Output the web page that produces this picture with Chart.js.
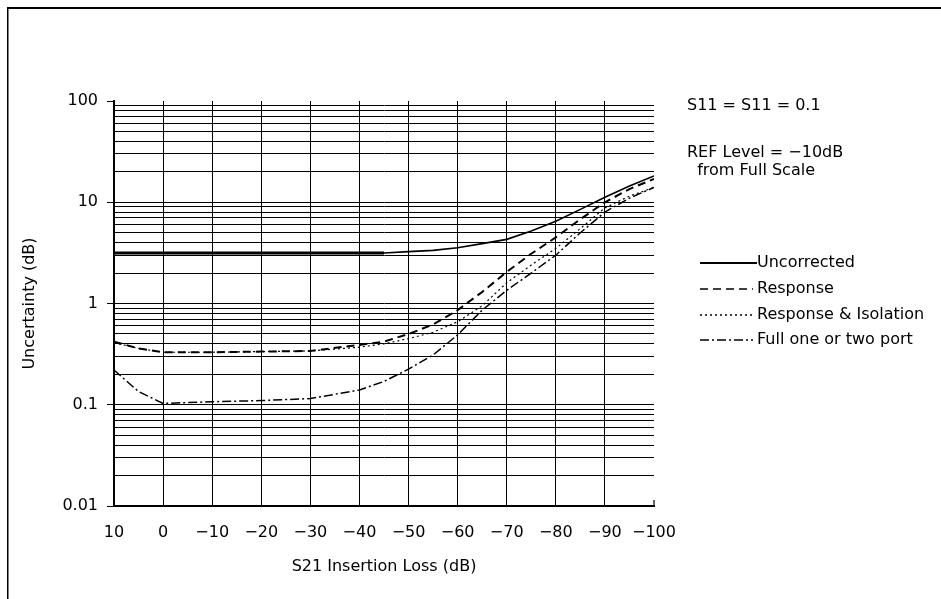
<!DOCTYPE html>
<html>
<head>
<meta charset="utf-8">
<script src="https://cdn.jsdelivr.net/npm/chart.js@4.4.0/dist/chart.umd.min.js"></script>
<style>
html,body{margin:0;padding:0;background:#fff;}
#wrap{width:941px;height:599px;position:relative;}
</style>
</head>
<body>
<div id="wrap"><canvas id="c" width="941" height="599"></canvas></div>
<script>
// ---- data ----
const insertionLoss = [10, 5, 0, -10, -20, -30, -40, -45, -50, -55, -60, -65, -70, -75, -80, -85, -90, -95, -100];
const uncorrected       = [3.15, 3.15, 3.15, 3.15, 3.15, 3.15, 3.15, 3.15, 3.25, 3.35, 3.55, 3.9, 4.3, 5.2, 6.5, 8.5, 11.2, 14.5, 18.2];
const response          = [0.42, 0.36, 0.33, 0.33, 0.335, 0.34, 0.39, 0.42, 0.5, 0.62, 0.86, 1.3, 2.05, 3.1, 4.5, 6.8, 10, 13.5, 17];
const responseIsolation = [0.41, 0.36, 0.33, 0.33, 0.335, 0.34, 0.37, 0.4, 0.45, 0.52, 0.66, 0.95, 1.6, 2.4, 3.5, 5.5, 8.8, 11.5, 14];
const fullPort          = [0.22, 0.135, 0.103, 0.107, 0.11, 0.115, 0.14, 0.17, 0.225, 0.31, 0.49, 0.86, 1.35, 2.0, 3.0, 5.0, 8.0, 11, 14];
const seriesNames = ['Uncorrected', 'Response', 'Response & Isolation', 'Full one or two port'];
const xTickValues = [10, 0, -10, -20, -30, -40, -50, -60, -70, -80, -90, -100];
const yMajorTicks = [0.01, 0.1, 1, 10, 100];
const yMinorSteps = [1, 2, 3, 4, 5, 6, 7, 8, 9];
const notes = ['S11 = S11 = 0.1', 'REF Level = \u221210dB', '  from Full Scale'];
const xTitle = 'S21 Insertion Loss (dB)';
const yTitle = 'Uncertainty (dB)';

// ---- styles ----
const FONT = 'DejaVu Sans';
const FS = 16;
const styles = [
  {dash: [], width: 1.6},
  {dash: [8, 5], width: 2},
  {dash: [2, 3], width: 1.2},
  {dash: [9, 3, 2, 3], width: 1.5}
];

const yGridValues = [];
yMajorTicks.forEach((d, i) => {
  if (i === yMajorTicks.length - 1) { yGridValues.push(d); return; }
  yMinorSteps.forEach(m => yGridValues.push(Number((m * d).toPrecision(3))));
});

const toPts = arr => insertionLoss.map((x, i) => ({x: x, y: arr[i]}));
const allSeries = [uncorrected, response, responseIsolation, fullPort];
const datasets = allSeries.map((arr, i) => {
  const ds = {
    label: seriesNames[i],
    data: toPts(arr),
    borderColor: '#000',
    backgroundColor: '#000',
    borderWidth: styles[i].width,
    borderDash: styles[i].dash,
    pointRadius: 0,
    fill: false,
    tension: 0
  };
  if (i === 0) {
    // thick flat part, thinner rising part (as in the reference)
    ds.segment = {borderWidth: c => (c.p0.parsed.x > -45 ? 3 : 1.6)};
  }
  return ds;
});

const fmtX = v => (v < 0 ? '\u2212' + Math.abs(v) : String(v));

const frame = {
  id: 'frame',
  beforeDraw(chart) {
    const ctx = chart.ctx;
    ctx.save();
    ctx.fillStyle = '#fff';
    ctx.fillRect(0, 0, chart.width, chart.height);
    ctx.fillStyle = '#000';
    ctx.fillRect(7, 7, chart.width, 2);
    ctx.fillRect(7, 7, 1.5, chart.height);
    ctx.restore();
  },
  afterDraw(chart) {
    const ctx = chart.ctx;
    ctx.save();
    ctx.fillStyle = '#000';
    ctx.strokeStyle = '#000';
    ctx.font = FS + 'px "' + FONT + '"';
    ctx.textBaseline = 'middle';
    ctx.textAlign = 'left';
    ctx.fillText(notes[0], 687, 106);
    ctx.fillText(notes[1], 687, 153);
    ctx.fillText(notes[2], 687, 171);
    const ly = [263, 289, 315, 340];
    seriesNames.forEach((n, i) => {
      ctx.beginPath();
      ctx.setLineDash(styles[i].dash);
      ctx.lineWidth = i === 0 ? 2.2 : 1.3;
      ctx.moveTo(700, ly[i]);
      ctx.lineTo(i === 0 ? 757 : 753, ly[i]);
      ctx.stroke();
      ctx.setLineDash([]);
      ctx.fillText(n, 757, ly[i]);
    });
    // small closing tick at right end of x axis
    const xs = chart.scales.x, ys = chart.scales.y;
    ctx.lineWidth = 1.2;
    ctx.beginPath();
    const xr = xs.getPixelForValue(-100);
    ctx.moveTo(xr, ys.bottom);
    ctx.lineTo(xr, ys.bottom - 6);
    ctx.stroke();
    ctx.restore();
  }
};

new Chart(document.getElementById('c'), {
  type: 'line',
  data: {datasets: datasets},
  plugins: [frame],
  options: {
    responsive: false,
    animation: false,
    events: [],
    layout: {padding: {top: 101, right: 287, left: 0, bottom: 0}},
    plugins: {legend: {display: false}, tooltip: {enabled: false}, title: {display: false}},
    scales: {
      x: {
        type: 'linear',
        reverse: true,
        min: -100,
        max: 10,
        afterBuildTicks: s => { s.ticks = xTickValues.map(v => ({value: v})); },
        afterFit: s => { s.height = 93; },
        ticks: {
          autoSkip: false,
          maxRotation: 0,
          padding: 17,
          color: '#000',
          font: {family: FONT, size: FS},
          callback: v => fmtX(v)
        },
        grid: {
          drawTicks: false,
          lineWidth: 1,
          color: c => (c.tick && (c.tick.value === 10 || c.tick.value === -100)) ? 'rgba(0,0,0,0)' : '#000'
        },
        border: {display: true, color: '#000', width: 2},
        title: {
          display: true, text: xTitle, color: '#000',
          font: {family: FONT, size: FS},
          padding: {top: 0, bottom: 23}
        }
      },
      y: {
        type: 'logarithmic',
        min: 0.01,
        max: 100,
        afterBuildTicks: s => { s.ticks = yGridValues.map(v => ({value: v, major: yMajorTicks.includes(v)})); },
        afterFit: s => { s.width = 114; },
        ticks: {
          autoSkip: false,
          padding: 9,
          color: '#000',
          font: {family: FONT, size: FS},
          callback: v => (yMajorTicks.includes(v) ? String(v) : '')
        },
        grid: {
          drawTicks: true,
          tickLength: 7,
          lineWidth: 1,
          color: c => (c.tick && c.tick.value === 100) ? 'rgba(0,0,0,0)' : '#000',
          tickColor: c => (c.tick && yMajorTicks.includes(c.tick.value)) ? '#000' : 'rgba(0,0,0,0)'
        },
        border: {display: true, color: '#000', width: 2},
        title: {
          display: true, text: yTitle, color: '#000',
          font: {family: FONT, size: FS},
          padding: {top: 20, bottom: 0}
        }
      }
    }
  }
});
</script>
</body>
</html>
